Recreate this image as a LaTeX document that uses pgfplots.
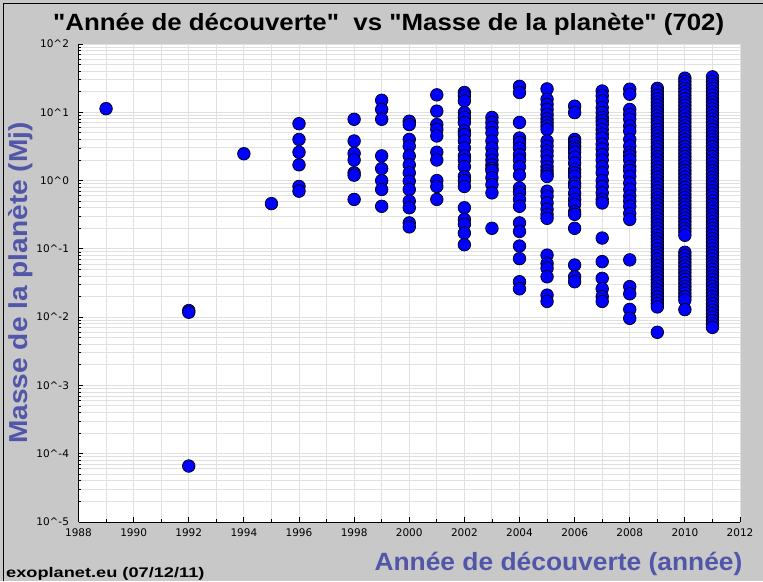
\documentclass[border=0pt]{standalone}
\usepackage{fontspec}
\setmainfont{Liberation Sans}[Ligatures=TeXOff]
\newfontfamily\tickfont{DejaVu Sans}
\newfontfamily\titlefont{Liberation Sans}[Ligatures=TeXOff, FakeStretch=1.1]
\newfontfamily\xlabfont{Liberation Sans}[Ligatures=TeXOff, FakeStretch=1.055]
\newfontfamily\ylabfont{Liberation Sans}[Ligatures=TeXOff, FakeStretch=1.08]
\newfontfamily\footfont{Liberation Sans}[Ligatures=TeXOff, FakeStretch=1.3]
\usepackage{pgfplots}
\pgfplotsset{compat=1.18}
\definecolor{bggray}{RGB}{200,200,200}
\definecolor{gridgray}{RGB}{224,224,224}
\definecolor{labblue}{RGB}{82,86,168}
\begin{document}
\begin{tikzpicture}[x=1pt,y=1pt]
\fill[bggray] (0,0) rectangle (763,581);
\useasboundingbox (0,0) rectangle (763,581);
\draw[black,line width=1.2pt] (3.5,0) -- (3.5,577.5) -- (763,577.5);
\begin{axis}[
  at={(78.5pt,59pt)}, anchor=south west, scale only axis,
  width=661.5pt, height=478pt,
  xmin=1988, xmax=2012, ymode=log, ymin=1e-5, ymax=100,
  axis background/.style={fill=white},
  axis x line*=bottom, axis y line*=left,
  axis line style={-, black, line width=1pt},
  xtick={1988,1990,1992,1994,1996,1998,2000,2002,2004,2006,2008,2010,2012},
  xticklabels={1988,1990,1992,1994,1996,1998,2000,2002,2004,2006,2008,2010,2012},
  minor xtick={1989,1991,1993,1995,1997,1999,2001,2003,2005,2007,2009,2011},
  ytick={1e-5,1e-4,1e-3,1e-2,1e-1,1,10,100},
  yticklabels={10\textasciicircum-5,10\textasciicircum-4,10\textasciicircum-3,10\textasciicircum-2,10\textasciicircum-1,10\textasciicircum0,10\textasciicircum1,10\textasciicircum2},
  minor ytick={2e-5,3e-5,4e-5,5e-5,6e-5,7e-5,8e-5,9e-5,2e-4,3e-4,4e-4,5e-4,6e-4,7e-4,8e-4,9e-4,2e-3,3e-3,4e-3,5e-3,6e-3,7e-3,8e-3,9e-3,0.02,0.03,0.04,0.05,0.06,0.07,0.08,0.09,0.2,0.3,0.4,0.5,0.6,0.7,0.8,0.9,2,3,4,5,6,7,8,9,20,30,40,50,60,70,80,90},
  tick align=inside,
  major tick length=5pt, minor tick length=3pt,
  tick style={black, line width=0.8pt},
  grid=both,
  major grid style={gridgray, line width=1pt},
  minor grid style={gridgray, line width=1pt},
  tick label style={font=\tickfont\fontsize{10.5}{12}\selectfont},
  yticklabel style={xshift=-6pt},
  xticklabel style={yshift=-3pt},
  title={"Année de découverte"\ \ vs "Masse de la planète" (702)},
  every axis title/.style={at={(axis description cs:0.469,1.028)}, anchor=base, font=\titlefont\bfseries\fontsize{23.5}{28}\selectfont},
  xlabel={Année de découverte (année)},
  every axis x label/.style={at={(axis description cs:1.009,-0.1025)}, anchor=base east, font=\xlabfont\bfseries\fontsize{25}{30}\selectfont, text=labblue},
  ylabel={Masse de la planète (Mj)},
  every axis y label/.style={at={(axis description cs:-0.077,0.5)}, anchor=base, rotate=90, font=\ylabfont\bfseries\fontsize{26}{30}\selectfont, text=labblue},
]
\addplot[only marks, mark=*, mark size=6.3pt, mark options={fill=blue, draw=black, line width=0.7pt}] coordinates {
(1989,11.3)
(1992,0.0125) (1992,0.0118) (1992,0.000066)
(1994,2.47)
(1995,0.46)
(1996,6.8) (1996,4.0) (1996,2.6) (1996,1.7) (1996,0.82) (1996,0.70)
(1998,7.9) (1998,3.8) (1998,2.5) (1998,2.0) (1998,1.3) (1998,1.2) (1998,0.53)
(1999,15) (1999,11) (1999,7.9) (1999,2.3) (1999,1.5) (1999,1.0) (1999,0.74) (1999,0.42)
(2000,7.4) (2000,6.6) (2000,4.0) (2000,3.2) (2000,2.3) (2000,1.7) (2000,1.3) (2000,0.98) (2000,0.74) (2000,0.50) (2000,0.40) (2000,0.24) (2000,0.21)
(2001,18) (2001,10.4) (2001,6.6) (2001,5.6) (2001,4.5) (2001,2.6) (2001,2.0) (2001,1.0) (2001,0.82) (2001,0.53)
(2002,19.5) (2002,17.4) (2002,14.7) (2002,9.9) (2002,8.4) (2002,7.1) (2002,5.3) (2002,4.7) (2002,3.8) (2002,3.0) (2002,2.3) (2002,2.0) (2002,1.6) (2002,1.15) (2002,1.0) (2002,0.82) (2002,0.40) (2002,0.27) (2002,0.23) (2002,0.17) (2002,0.115)
(2003,8.4) (2003,7.1) (2003,6.0) (2003,5.0) (2003,3.8) (2003,3.0) (2003,2.4) (2003,2.0) (2003,1.7) (2003,1.5) (2003,1.4) (2003,1.1) (2003,0.87) (2003,0.66) (2003,0.20)
(2004,24) (2004,19.5) (2004,7.1) (2004,4.2) (2004,3.6) (2004,3.0) (2004,2.4) (2004,2.0) (2004,1.6) (2004,1.2) (2004,0.78) (2004,0.66) (2004,0.53) (2004,0.42) (2004,0.24) (2004,0.18) (2004,0.11) (2004,0.072) (2004,0.033) (2004,0.026)
(2005,22) (2005,15.5) (2005,13) (2005,11) (2005,9.3) (2005,8.0) (2005,7.1) (2005,6.3) (2005,5.6) (2005,3.8) (2005,3.2) (2005,2.7) (2005,2.3) (2005,1.9) (2005,1.6) (2005,1.4) (2005,1.25) (2005,1.15) (2005,0.70) (2005,0.59) (2005,0.47) (2005,0.38) (2005,0.32) (2005,0.28) (2005,0.081) (2005,0.061) (2005,0.052) (2005,0.039) (2005,0.021) (2005,0.017)
(2006,12.3) (2006,9.9) (2006,4.0) (2006,3.6) (2006,3.2) (2006,2.9) (2006,2.6) (2006,2.2) (2006,1.8) (2006,1.45) (2006,1.3) (2006,1.15) (2006,0.92) (2006,0.82) (2006,0.65) (2006,0.53) (2006,0.45) (2006,0.35) (2006,0.32) (2006,0.20) (2006,0.058) (2006,0.039) (2006,0.033)
(2007,20.5) (2007,17.4) (2007,14.7) (2007,11.7) (2007,9.9) (2007,8.4) (2007,7.5) (2007,6.6) (2007,5.6) (2007,4.8) (2007,4.2) (2007,3.4) (2007,2.9) (2007,2.4) (2007,2.0) (2007,1.6) (2007,1.3) (2007,1.0) (2007,0.82) (2007,0.66) (2007,0.53) (2007,0.47) (2007,0.144) (2007,0.065) (2007,0.037) (2007,0.026) (2007,0.020) (2007,0.017)
(2008,21.8) (2008,18.4) (2008,11) (2008,9.3) (2008,7.9) (2008,6.3) (2008,5.3) (2008,4.0) (2008,3.2) (2008,2.6) (2008,2.3) (2008,2.0) (2008,1.6) (2008,1.4) (2008,1.15) (2008,0.92) (2008,0.74) (2008,0.59) (2008,0.50) (2008,0.42) (2008,0.33) (2008,0.27) (2008,0.069) (2008,0.028) (2008,0.022) (2008,0.013) (2008,0.0096)
(2009,22.4) (2009,20.0) (2009,17.8) (2009,15.8) (2009,14.1) (2009,12.6) (2009,11.2) (2009,10.0) (2009,8.91) (2009,7.94) (2009,7.08) (2009,6.31) (2009,5.62) (2009,5.01) (2009,4.47) (2009,3.98) (2009,3.55) (2009,3.16) (2009,2.82) (2009,2.51) (2009,2.24) (2009,2.00) (2009,1.78) (2009,1.58) (2009,1.41) (2009,1.26) (2009,1.12) (2009,1.00) (2009,0.891) (2009,0.794) (2009,0.708) (2009,0.631) (2009,0.562) (2009,0.501) (2009,0.447) (2009,0.398) (2009,0.355) (2009,0.316) (2009,0.282) (2009,0.251) (2009,0.224) (2009,0.200) (2009,0.178) (2009,0.158) (2009,0.141) (2009,0.126) (2009,0.112) (2009,0.100) (2009,0.0891) (2009,0.0794) (2009,0.0708) (2009,0.0631) (2009,0.0562) (2009,0.0501) (2009,0.0447) (2009,0.0398) (2009,0.0355) (2009,0.0316) (2009,0.0282) (2009,0.0251) (2009,0.0224) (2009,0.0200) (2009,0.0178) (2009,0.0158) (2009,0.0141) (2009,0.0060)
(2010,31.6) (2010,28.2) (2010,25.1) (2010,22.4) (2010,20.0) (2010,17.8) (2010,15.8) (2010,14.1) (2010,12.6) (2010,11.2) (2010,10.0) (2010,8.91) (2010,7.94) (2010,7.08) (2010,6.31) (2010,5.62) (2010,5.01) (2010,4.47) (2010,3.98) (2010,3.55) (2010,3.16) (2010,2.82) (2010,2.51) (2010,2.24) (2010,2.00) (2010,1.78) (2010,1.58) (2010,1.41) (2010,1.26) (2010,1.12) (2010,1.00) (2010,0.891) (2010,0.794) (2010,0.708) (2010,0.631) (2010,0.562) (2010,0.501) (2010,0.447) (2010,0.398) (2010,0.355) (2010,0.316) (2010,0.282) (2010,0.251) (2010,0.224) (2010,0.200) (2010,0.178) (2010,0.158) (2010,0.0891) (2010,0.0794) (2010,0.0708) (2010,0.0631) (2010,0.0562) (2010,0.0501) (2010,0.0447) (2010,0.0398) (2010,0.0355) (2010,0.0316) (2010,0.0282) (2010,0.0251) (2010,0.0224) (2010,0.0200) (2010,0.0178) (2010,0.0129)
(2011,33.0) (2011,28.2) (2011,25.1) (2011,22.4) (2011,20.0) (2011,17.8) (2011,15.8) (2011,14.1) (2011,12.6) (2011,11.2) (2011,10.0) (2011,8.91) (2011,7.94) (2011,7.08) (2011,6.31) (2011,5.62) (2011,5.01) (2011,4.47) (2011,3.98) (2011,3.55) (2011,3.16) (2011,2.82) (2011,2.51) (2011,2.24) (2011,2.00) (2011,1.78) (2011,1.58) (2011,1.41) (2011,1.26) (2011,1.12) (2011,1.00) (2011,0.891) (2011,0.794) (2011,0.708) (2011,0.631) (2011,0.562) (2011,0.501) (2011,0.447) (2011,0.398) (2011,0.355) (2011,0.316) (2011,0.282) (2011,0.251) (2011,0.224) (2011,0.200) (2011,0.178) (2011,0.158) (2011,0.141) (2011,0.126) (2011,0.112) (2011,0.100) (2011,0.0891) (2011,0.0794) (2011,0.0708) (2011,0.0631) (2011,0.0562) (2011,0.0501) (2011,0.0447) (2011,0.0398) (2011,0.0355) (2011,0.0316) (2011,0.0282) (2011,0.0251) (2011,0.0224) (2011,0.0200) (2011,0.0178) (2011,0.0158) (2011,0.0141) (2011,0.0126) (2011,0.0112) (2011,0.0100) (2011,0.00891) (2011,0.00794) (2011,0.00708)
};
\end{axis}
\node[anchor=base west, inner sep=0pt, font=\footfont\bfseries\fontsize{14}{17}\selectfont] at (6,4) {exoplanet.eu (07/12/11)};
\end{tikzpicture}
\end{document}
